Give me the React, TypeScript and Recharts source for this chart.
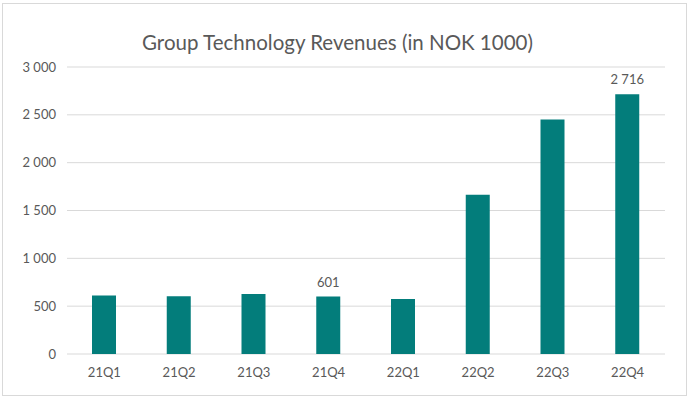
import { BarChart, Bar, XAxis, YAxis, CartesianGrid, LabelList } from "recharts";

const QUARTERS = ["21Q1", "21Q2", "21Q3", "21Q4", "22Q1", "22Q2", "22Q3", "22Q4"];
const REVENUES = [612, 604, 628, 601, 574, 1665, 2452, 2716];
const LABELLED = ["21Q4", "22Q4"];
const Y_TICKS = [0, 500, 1000, 1500, 2000, 2500, 3000];

const chartData = QUARTERS.map((q, i) => ({ quarter: q, revenue: REVENUES[i] }));

const fmt = (v: number) => String(v).replace(/\B(?=(\d{3})+(?!\d))/g, " ");

const TEXT = "#595959";
const FONT = "Lato, 'Open Sans', sans-serif";

function BarLabel(props: any) {
  const { x, y, width, value, index } = props;
  if (!LABELLED.includes(QUARTERS[index])) return null;
  return (
    <text x={x + width / 2} y={y - 10} textAnchor="middle" fill={TEXT} fontSize={13} fontFamily={FONT}>
      {fmt(value)}
    </text>
  );
}

export default function App() {
  return (
    <div style={{ position: "fixed", left: 0, top: 0, width: 690, height: 402, background: "#fff" }}>
      <div
        style={{
          position: "absolute",
          left: 2,
          top: 3,
          width: 683,
          height: 391,
          border: "1px solid #d9d9d9",
        }}
      />
      <div
        style={{
          position: "absolute",
          left: 0,
          width: 675,
          top: 29,
          textAlign: "center",
          fontFamily: FONT,
          fontSize: 20.5,
          color: TEXT,
          lineHeight: "26px",
        }}
      >
        Group Technology Revenues (in NOK 1000)
      </div>
      <div style={{ position: "absolute", left: 0, top: 0 }}>
        <BarChart width={690} height={402} data={chartData} margin={{ top: 67, right: 25, bottom: 18, left: 0 }}>
          <CartesianGrid vertical={false} stroke="#d9d9d9" />
          <XAxis
            dataKey="quarter"
            axisLine={false}
            tickLine={false}
            tickMargin={8}
            height={30}
            tick={{ fill: TEXT, fontSize: 13, fontFamily: FONT }}
          />
          <YAxis
            width={67}
            domain={[0, 3000]}
            ticks={Y_TICKS}
            tickFormatter={fmt}
            axisLine={false}
            tickLine={false}
            tickMargin={5}
            tick={{ fill: TEXT, fontSize: 13, fontFamily: FONT }}
          />
          <Bar dataKey="revenue" fill="#037d7b" barSize={24} isAnimationActive={false}>
            <LabelList dataKey="revenue" content={BarLabel} />
          </Bar>
        </BarChart>
      </div>
    </div>
  );
}
